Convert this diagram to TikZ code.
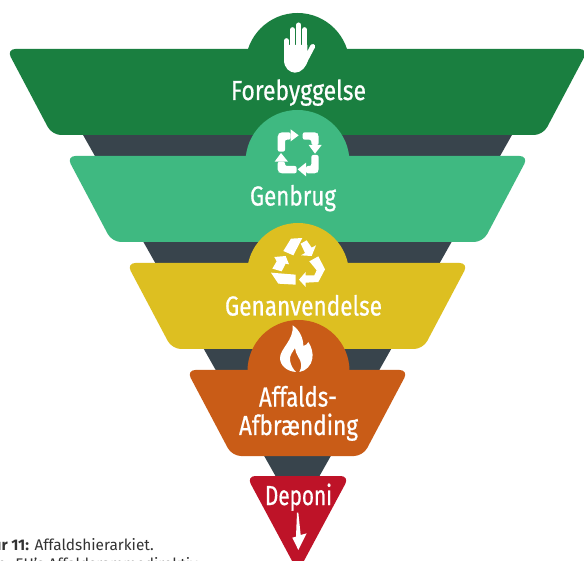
\documentclass[tikz,border=0pt]{standalone}
\usepackage{fontspec}
\setmainfont{Fira Sans}
\newfontfamily\titlefont[FakeBold=0.7]{Fira Sans}
\definecolor{cgreen}{HTML}{1A7F40}
\definecolor{cteal}{HTML}{3FB981}
\definecolor{cyellow}{HTML}{DDBF21}
\definecolor{corange}{HTML}{C95C17}
\definecolor{cred}{HTML}{BE1328}
\definecolor{cdark}{HTML}{38444C}
\definecolor{ctext}{HTML}{333333}
\tikzset{
  bandshape/.style={fill=#1,draw=none,rounded corners=9pt},
  icon/.style={fill=white,draw=none},
  finger/.style={draw=white,line width=5pt,line cap=round},
  title/.style={text=white,anchor=base,inner sep=0pt,font=\titlefont\fontsize{27.5}{28}\selectfont},
  caption/.style={text=ctext,anchor=base east,inner sep=0pt,font=\fontsize{15.4}{17}\selectfont}
}
\newcommand{\fitw}[2]{\resizebox{#1pt}{\height}{#2}}
\begin{document}
\begin{tikzpicture}[x=1pt,y=-1pt]
\clip (0,0) rectangle (584,561);
\fill[white] (0,0) rectangle (584,561);
% central funnel
\fill[cdark] (82.5,134) -- (512.5,134) -- (297.5,515) -- cycle;
% Forebyggelse
\fill[bandshape=cgreen] (6.5,49) -- (588.5,49) -- (543,135) -- (52,135) -- cycle;
\fill[cgreen] (297.5,65) circle[radius=52pt];
% Genbrug
\fill[bandshape=cteal] (66.5,156) -- (528.5,156) -- (483,242) -- (112,242) -- cycle;
\fill[cteal] (297.5,162) circle[radius=52pt];
% Genanvendelse
\fill[bandshape=cyellow] (126.5,263) -- (468.5,263) -- (423,349) -- (172,349) -- cycle;
\fill[cyellow] (298,274) circle[radius=51pt];
% Affalds-Afbraending
\fill[bandshape=corange] (186.5,370) -- (408.5,370) -- (363,456) -- (232,456) -- cycle;
\fill[corange] (298.5,371) circle[radius=51pt];
% Deponi
\fill[bandshape=cred] (246.5,476) -- (349.5,476) -- (298,572) -- cycle;
% hand icon
\begin{scope}[shift={(200,0)},scale=1/3]
\draw[finger] (259.5,122) -- (259.5,160);
\draw[finger] (277.5,89) -- (277.5,160);
\draw[finger] (296,75) -- (296,160);
\draw[finger] (314,89) -- (314,160);
\fill[icon] (252,135) -- (252,180) .. controls (252,205) and (270,218) .. (285,218)
  .. controls (305,218) and (318,200) .. (325,180) -- (345,142)
  .. controls (348,132) and (335,128) .. (330,138) -- (322,155) -- (322,135) -- cycle;
\end{scope}
% square arrows icon
\begin{scope}[shift={(200,110)},scale=1/3]
\fill[icon,rounded corners=2pt] (272,67) -- (240,67) -- (233,74) -- (233,125) -- (255,125) -- (255,89) -- (272,89) -- cycle;
\fill[icon] (272,58) -- (296,76) -- (272,94) -- cycle;
\fill[icon,rounded corners=2pt] (308,67) -- (350,67) -- (356,74) -- (356,105) -- (334,105) -- (334,89) -- (308,89) -- cycle;
\fill[icon] (326,105) -- (365,105) -- (345,131) -- cycle;
\fill[icon,rounded corners=2pt] (356,135) -- (356,184) -- (350,190) -- (318,190) -- (318,168) -- (334,168) -- (334,135) -- cycle;
\fill[icon] (318,158) -- (318,199) -- (293,178) -- cycle;
\fill[icon,rounded corners=2pt] (233,155) -- (233,184) -- (240,190) -- (290,190) -- (290,168) -- (255,168) -- (255,155) -- cycle;
\fill[icon] (224,155) -- (264,155) -- (243,129) -- cycle;
\end{scope}
% recycling icon
\begin{scope}[shift={(265,232)},scale=1/3]
\fill[icon] (55,57) -- (78,20) -- (112,18) -- (85,70) -- cycle;
\fill[icon] (107,35) -- (125,25) -- (140,47) -- (153,40) -- (140,72) -- (108,70) -- (120,63) -- cycle;
\fill[icon] (133,88) -- (160,73) -- (180,112) -- (160,150) -- (122,152) -- (122,165) -- (102,143) -- (122,120) -- (122,130) -- (148,130) -- (155,115) -- cycle;
\fill[icon] (18,122) -- (92,128) -- (92,158) -- (40,155) -- cycle;
\fill[icon] (22,110) -- (35,88) -- (28,75) -- (62,72) -- (72,97) -- (62,95) -- (50,118) -- cycle;
\end{scope}
% flame icon
\begin{scope}[shift={(270,322)},scale=1/3]
\fill[icon] (68,10) .. controls (90,25) and (100,50) .. (100,72)
  .. controls (108,70) and (113,65) .. (115,60)
  .. controls (125,75) and (130,95) .. (127,110)
  .. controls (124,130) and (108,147) .. (88,150)
  .. controls (97,135) and (95,120) .. (85,105)
  .. controls (80,97) and (76,88) .. (75,78)
  .. controls (68,90) and (58,100) .. (60,115)
  .. controls (62,130) and (70,142) .. (78,150)
  .. controls (50,148) and (30,130) .. (30,108)
  .. controls (30,80) and (72,55) .. (68,10) -- cycle;
\end{scope}
% landfill arrow
\begin{scope}[shift={(240,470)},scale=1/3]
\fill[icon] (171,128) -- (175,128) -- (182,195) -- (200,190) -- (175,240) -- (157,203) -- (168,200) -- cycle;
\end{scope}
% labels
\node[title] (t1) at (298.5,100) {\fitw{135}{Forebyggelse}};
\node[title] (t2) at (293,205.5) {\fitw{86}{Genbrug}};
\node[title] (t3) at (303.5,315.5) {\fitw{157}{Genanvendelse}};
\node[title] (t4a) at (298,406.5) {\fitw{78}{Affalds-}};
\node[title] (t4b) at (298.5,435) {\fitw{119}{Afbrænding}};
\node[title] (t5) at (298.5,505) {\fitw{67}{Deponi}};
% caption
\node[caption] (c1) at (154,550) {\textbf{Figur 11:} Affaldshierarkiet.};
\node[caption] (c2) at (201,569.5) {Kilde: EU's Affaldsrammedirektiv.};
\end{tikzpicture}
\end{document}
